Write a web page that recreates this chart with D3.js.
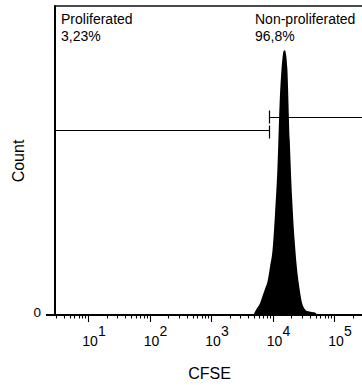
<!DOCTYPE html>
<html>
<head>
<meta charset="utf-8">
<script src="https://cdn.jsdelivr.net/npm/d3@7"></script>
<style>
  body { margin: 0; background: #fff; }
  text { font-family: 'Liberation Sans', Arial, sans-serif; fill: #000; }
</style>
</head>
<body>
<svg id="chart" width="362" height="385"></svg>
<script>
// CFSE histogram bins (intensity) and event counts
const cfseBins = [4365, 4786, 5248, 5754, 6310, 6918, 7586, 8318, 9120, 10000,
  10965, 12023, 13183, 13800, 14454, 15136, 15849, 16596, 17378, 19055,
  20893, 22909, 25119, 27542, 30200, 33113, 36308, 39811, 43652, 47863,
  52481, 57544];
const counts = [0, 0, 9, 18, 28, 44, 60, 77, 110, 147,
  229, 334, 496, 545, 580, 598, 600, 590, 560, 396,
  261, 168, 102, 59, 27, 14, 9, 8, 7, 6,
  2, 0];

// gate boundary and gate labels
const gateCut = 8770;
const gateNames = ['Proliferated', 'Non-proliferated'];
const gatePcts = ['3,23%', '96,8%'];
const majorExps = [1, 2, 3, 4, 5];

const svg = d3.select('#chart');
const margin = { top: 6, left: 55, bottom: 70 };
const width = 362, height = 385;

const x = d3.scaleLog().domain([2.9, 285000]).range([margin.left, 362]);
const y = d3.scaleLinear().domain([0, 700]).range([height - margin.bottom, margin.top]);

const data = cfseBins.map((v, i) => ({ v, c: counts[i] }));

// histogram
const area = d3.area()
  .x(d => x(d.v))
  .y0(y(0))
  .y1(d => y(d.c))
  .curve(d3.curveMonotoneX);

svg.append('path')
  .datum(data)
  .attr('d', area)
  .attr('fill', '#000');

// frame: top and left
svg.append('line')
  .attr('x1', x.range()[0]).attr('x2', width)
  .attr('y1', y(700)).attr('y2', y(700))
  .attr('stroke', '#111').attr('stroke-width', 1.5);

svg.append('line')
  .attr('x1', x.range()[0]).attr('x2', x.range()[0])
  .attr('y1', y(700) - 0.7).attr('y2', y(0))
  .attr('stroke', '#000').attr('stroke-width', 2);

// x axis line
svg.append('line')
  .attr('x1', x.range()[0] - 9).attr('x2', width)
  .attr('y1', y(0)).attr('y2', y(0))
  .attr('stroke', '#000').attr('stroke-width', 2);

// ticks
const ticks = x.ticks();
svg.selectAll('.tick')
  .data(ticks)
  .enter()
  .append('line')
  .attr('class', 'tick')
  .attr('x1', d => Math.round(x(d)) + 0.5).attr('x2', d => Math.round(x(d)) + 0.5)
  .attr('y1', y(0))
  .attr('y2', d => (Number.isInteger(Math.log10(d)) ? y(0) + 7 : y(0) + 3.5))
  .attr('stroke', '#000').attr('stroke-width', 1.1);

const labels = svg.selectAll('.xlab')
  .data(majorExps)
  .enter()
  .append('g')
  .attr('class', 'xlab')
  .attr('transform', d => `translate(${x(Math.pow(10, d)) + 2},345.5)`);

labels.append('text')
  .attr('text-anchor', 'middle')
  .attr('font-size', 14)
  .text('10');

labels.append('text')
  .attr('x', 8).attr('y', -10)
  .attr('font-size', 14)
  .text(d => d);

svg.append('text')
  .attr('x', 41).attr('y', y(0) + 1.5)
  .attr('text-anchor', 'end')
  .attr('font-size', 13.5)
  .text('0');

svg.append('text')
  .attr('x', 209.5).attr('y', 379)
  .attr('text-anchor', 'middle')
  .attr('font-size', 16)
  .text('CFSE');

svg.append('text')
  .attr('transform', 'translate(24,161) rotate(-90)')
  .attr('text-anchor', 'middle')
  .attr('font-size', 16)
  .text('Count');

// gates
const gx = Math.round(x(gateCut)) + 0.5;
const leftGateY = 130.5, rightGateY = 117.5;

svg.append('line')
  .attr('x1', x.range()[0]).attr('x2', gx)
  .attr('y1', leftGateY).attr('y2', leftGateY)
  .attr('stroke', '#000').attr('stroke-width', 1);
svg.append('line')
  .attr('x1', gx).attr('x2', gx)
  .attr('y1', leftGateY - 5).attr('y2', leftGateY + 8)
  .attr('stroke', '#000').attr('stroke-width', 1.2);

svg.append('line')
  .attr('x1', gx).attr('x2', width)
  .attr('y1', rightGateY).attr('y2', rightGateY)
  .attr('stroke', '#000').attr('stroke-width', 1);
svg.append('line')
  .attr('x1', gx).attr('x2', gx)
  .attr('y1', rightGateY - 7).attr('y2', rightGateY + 6)
  .attr('stroke', '#000').attr('stroke-width', 1.2);

// gate labels
const labelX = [61, 255];
gateNames.forEach((name, i) => {
  svg.append('text')
    .attr('x', labelX[i]).attr('y', 24)
    .attr('font-size', 14)
    .text(name);
  svg.append('text')
    .attr('x', labelX[i]).attr('y', 40.5)
    .attr('font-size', 14)
    .text(gatePcts[i]);
});
</script>
</body>
</html>
